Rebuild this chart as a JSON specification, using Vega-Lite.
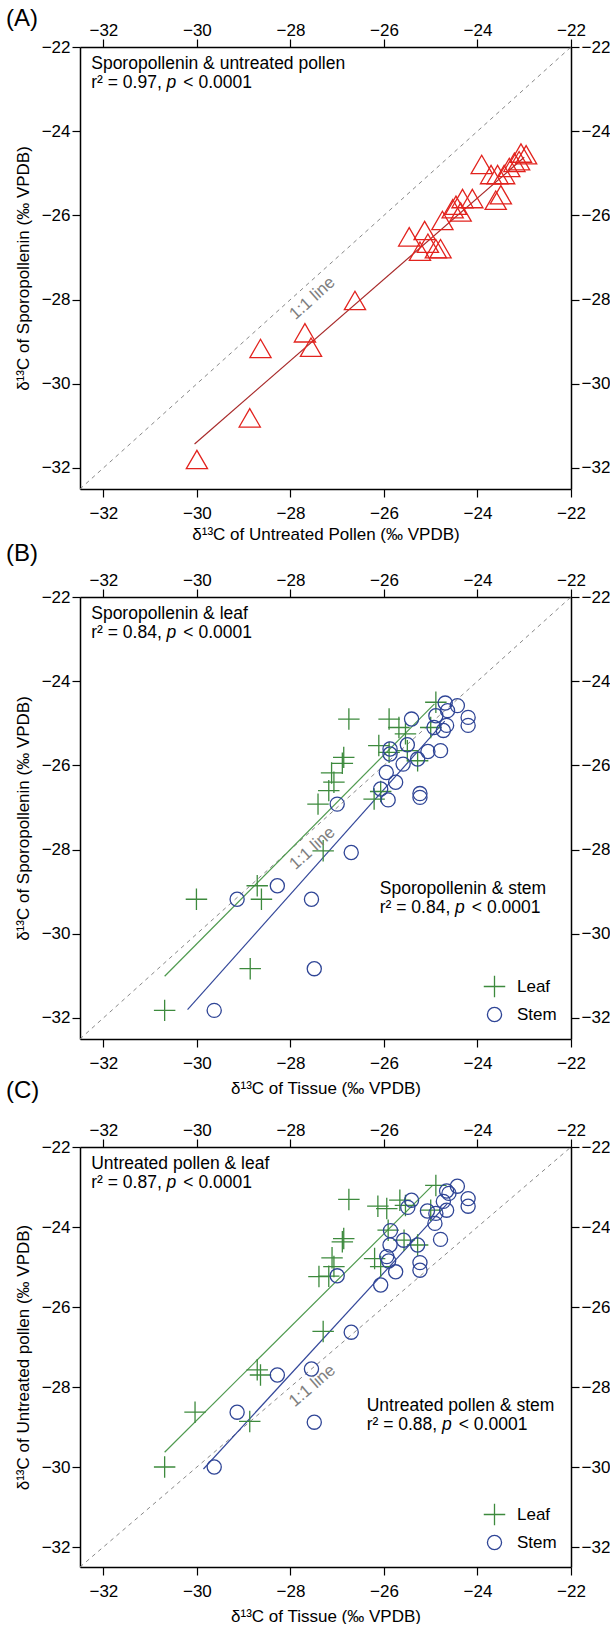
{
  "$schema": "https://vega.github.io/schema/vega-lite/v6.json",
  "background": "white",
  "padding": {"left": 6, "top": 7, "right": 0, "bottom": 0},
  "config": {
    "font": "Liberation Sans",
    "view": {"stroke": null},
    "axis": {"labelFont": "Liberation Sans", "labelFontSize": 17, "labelColor": "black", "titleFont": "Liberation Sans", "titleFontSize": 17, "titleFontWeight": "normal", "titleColor": "black", "domainColor": "black", "domainWidth": 1.5, "tickColor": "black", "tickWidth": 1.2, "tickSize": 8, "grid": false, "labelFlush": false, "labelOverlap": false, "labelBound": false},
    "title": {"font": "Liberation Sans", "fontSize": 24, "fontWeight": "normal", "color": "black", "anchor": "start", "frame": "group"},
    "legend": {"labelFont": "Liberation Sans", "labelFontSize": 17, "labelColor": "black", "symbolSize": 200, "symbolStrokeWidth": 1.3, "rowPadding": 4, "labelOffset": 8, "padding": 0}
  },
  "datasets": {
    "oneone": [{"x": -32.5, "y": -32.5}, {"x": -22, "y": -22}],
    "oneLbl": [{"x": -27.53, "y": -27.97, "t": "1:1 line"}],
    "lnA": [{"x": -30.05, "y": -31.43}, {"x": -23.0, "y": -24.62}],
    "triA": [
      {"x": -30.0, "y": -31.8}, {"x": -28.87, "y": -30.81}, {"x": -28.64, "y": -29.16}, {"x": -27.69, "y": -28.79}, {"x": -27.56, "y": -29.13}, {"x": -26.62, "y": -28.02},
      {"x": -25.46, "y": -26.51}, {"x": -25.13, "y": -26.36}, {"x": -25.06, "y": -26.66}, {"x": -25.23, "y": -26.85}, {"x": -24.89, "y": -26.79}, {"x": -24.79, "y": -26.79},
      {"x": -24.75, "y": -26.12}, {"x": -24.46, "y": -25.76}, {"x": -24.53, "y": -25.84}, {"x": -24.32, "y": -25.6}, {"x": -24.11, "y": -25.6}, {"x": -24.36, "y": -25.92},
      {"x": -23.61, "y": -25.64}, {"x": -23.5, "y": -25.51}, {"x": -23.91, "y": -24.79}, {"x": -23.71, "y": -25.03}, {"x": -23.57, "y": -25.03}, {"x": -23.43, "y": -25.03},
      {"x": -23.32, "y": -24.86}, {"x": -23.21, "y": -24.74}, {"x": -23.07, "y": -24.52}, {"x": -22.96, "y": -24.56}, {"x": -23.11, "y": -24.7}
    ],
    "lnB": [
      {"type": "Leaf", "x": -30.69, "y": -31.01}, {"type": "Leaf", "x": -24.92, "y": -24.54},
      {"type": "Stem", "x": -30.2, "y": -31.8}, {"type": "Stem", "x": -24.7, "y": -24.95}
    ],
    "ptsB": [
      {"type": "Leaf", "x": -30.69, "y": -31.82}, {"type": "Leaf", "x": -30.01, "y": -29.18}, {"type": "Leaf", "x": -28.86, "y": -30.83}, {"type": "Leaf", "x": -28.71, "y": -28.86},
      {"type": "Leaf", "x": -28.62, "y": -29.18}, {"type": "Leaf", "x": -27.3, "y": -28.03}, {"type": "Leaf", "x": -27.41, "y": -26.92}, {"type": "Leaf", "x": -27.18, "y": -26.6},
      {"type": "Leaf", "x": -27.07, "y": -26.4}, {"type": "Leaf", "x": -27.12, "y": -26.18}, {"type": "Leaf", "x": -26.86, "y": -25.81}, {"type": "Leaf", "x": -26.89, "y": -25.95},
      {"type": "Leaf", "x": -26.75, "y": -24.9}, {"type": "Leaf", "x": -26.21, "y": -26.8}, {"type": "Leaf", "x": -26.07, "y": -26.62}, {"type": "Leaf", "x": -26.11, "y": -25.53},
      {"type": "Leaf", "x": -25.89, "y": -25.69}, {"type": "Leaf", "x": -25.89, "y": -24.9}, {"type": "Leaf", "x": -25.68, "y": -25.1}, {"type": "Leaf", "x": -25.54, "y": -25.25},
      {"type": "Leaf", "x": -25.5, "y": -25.65}, {"type": "Leaf", "x": -25.28, "y": -25.89}, {"type": "Leaf", "x": -25.0, "y": -25.1}, {"type": "Leaf", "x": -24.89, "y": -24.5},
      {"type": "Stem", "x": -29.63, "y": -31.82}, {"type": "Stem", "x": -29.14, "y": -29.18}, {"type": "Stem", "x": -28.28, "y": -28.86}, {"type": "Stem", "x": -27.55, "y": -29.18},
      {"type": "Stem", "x": -27.49, "y": -30.83}, {"type": "Stem", "x": -27.0, "y": -26.92}, {"type": "Stem", "x": -26.7, "y": -28.07}, {"type": "Stem", "x": -25.91, "y": -26.82},
      {"type": "Stem", "x": -26.07, "y": -26.56}, {"type": "Stem", "x": -25.95, "y": -26.17}, {"type": "Stem", "x": -25.75, "y": -26.4}, {"type": "Stem", "x": -25.87, "y": -25.73},
      {"type": "Stem", "x": -25.87, "y": -25.61}, {"type": "Stem", "x": -25.59, "y": -25.97}, {"type": "Stem", "x": -25.5, "y": -25.51}, {"type": "Stem", "x": -25.41, "y": -24.9},
      {"type": "Stem", "x": -25.28, "y": -25.85}, {"type": "Stem", "x": -25.23, "y": -26.67}, {"type": "Stem", "x": -25.23, "y": -26.76}, {"type": "Stem", "x": -25.06, "y": -25.67},
      {"type": "Stem", "x": -24.79, "y": -25.65}, {"type": "Stem", "x": -24.89, "y": -24.82}, {"type": "Stem", "x": -24.69, "y": -24.52}, {"type": "Stem", "x": -24.64, "y": -24.7},
      {"type": "Stem", "x": -24.43, "y": -24.58}, {"type": "Stem", "x": -24.2, "y": -24.86}, {"type": "Stem", "x": -24.2, "y": -25.05}, {"type": "Stem", "x": -24.66, "y": -25.05},
      {"type": "Stem", "x": -24.73, "y": -25.17}, {"type": "Stem", "x": -24.93, "y": -25.1}
    ],
    "lnC": [
      {"type": "Leaf", "x": -30.69, "y": -29.63}, {"type": "Leaf", "x": -24.96, "y": -22.96},
      {"type": "Stem", "x": -29.86, "y": -30.05}, {"type": "Stem", "x": -24.64, "y": -23.41}
    ],
    "ptsC": [
      {"type": "Leaf", "x": -30.69, "y": -30.0}, {"type": "Leaf", "x": -30.04, "y": -28.63}, {"type": "Leaf", "x": -28.87, "y": -28.86}, {"type": "Leaf", "x": -28.71, "y": -27.57},
      {"type": "Leaf", "x": -28.64, "y": -27.7}, {"type": "Leaf", "x": -27.3, "y": -26.61}, {"type": "Leaf", "x": -27.39, "y": -25.24}, {"type": "Leaf", "x": -27.18, "y": -25.23},
      {"type": "Leaf", "x": -27.11, "y": -24.77}, {"type": "Leaf", "x": -27.07, "y": -24.99}, {"type": "Leaf", "x": -26.89, "y": -24.37}, {"type": "Leaf", "x": -26.86, "y": -24.29},
      {"type": "Leaf", "x": -26.75, "y": -23.31}, {"type": "Leaf", "x": -26.13, "y": -23.48}, {"type": "Leaf", "x": -25.94, "y": -23.54}, {"type": "Leaf", "x": -25.66, "y": -23.33},
      {"type": "Leaf", "x": -25.54, "y": -23.46}, {"type": "Leaf", "x": -25.91, "y": -24.08}, {"type": "Leaf", "x": -25.57, "y": -24.33}, {"type": "Leaf", "x": -25.28, "y": -24.45},
      {"type": "Leaf", "x": -26.2, "y": -24.79}, {"type": "Leaf", "x": -26.07, "y": -24.99}, {"type": "Leaf", "x": -24.89, "y": -22.96}, {"type": "Leaf", "x": -25.0, "y": -23.58},
      {"type": "Stem", "x": -29.63, "y": -30.0}, {"type": "Stem", "x": -29.14, "y": -28.63}, {"type": "Stem", "x": -28.28, "y": -27.7}, {"type": "Stem", "x": -27.55, "y": -27.55},
      {"type": "Stem", "x": -27.49, "y": -28.88}, {"type": "Stem", "x": -27.0, "y": -25.22}, {"type": "Stem", "x": -26.7, "y": -26.63}, {"type": "Stem", "x": -26.07, "y": -25.45},
      {"type": "Stem", "x": -25.94, "y": -24.74}, {"type": "Stem", "x": -25.9, "y": -24.85}, {"type": "Stem", "x": -25.75, "y": -25.12}, {"type": "Stem", "x": -25.87, "y": -24.45},
      {"type": "Stem", "x": -25.86, "y": -24.09}, {"type": "Stem", "x": -25.58, "y": -24.33}, {"type": "Stem", "x": -25.49, "y": -23.51}, {"type": "Stem", "x": -25.41, "y": -23.33},
      {"type": "Stem", "x": -25.28, "y": -24.45}, {"type": "Stem", "x": -25.23, "y": -24.89}, {"type": "Stem", "x": -25.23, "y": -25.08}, {"type": "Stem", "x": -25.07, "y": -23.6},
      {"type": "Stem", "x": -24.79, "y": -24.31}, {"type": "Stem", "x": -24.91, "y": -23.91}, {"type": "Stem", "x": -24.66, "y": -23.1}, {"type": "Stem", "x": -24.43, "y": -22.98},
      {"type": "Stem", "x": -24.61, "y": -23.16}, {"type": "Stem", "x": -24.73, "y": -23.36}, {"type": "Stem", "x": -24.66, "y": -23.58}, {"type": "Stem", "x": -24.2, "y": -23.29},
      {"type": "Stem", "x": -24.2, "y": -23.48}, {"type": "Stem", "x": -24.89, "y": -23.66}
    ],
    "ann": [
      {"p": "A", "s": "n", "x": -32.26, "y": -22.41, "t": "Sporopollenin & untreated pollen"},
      {"p": "A", "s": "n", "x": -32.26, "y": -22.86, "t": "r² = 0.97,"},
      {"p": "A", "s": "i", "x": -30.65, "y": -22.86, "t": "p"},
      {"p": "A", "s": "n", "x": -30.29, "y": -22.86, "t": "< 0.0001"},
      {"p": "B", "s": "n", "x": -32.26, "y": -22.4, "t": "Sporopollenin & leaf"},
      {"p": "B", "s": "n", "x": -32.26, "y": -22.86, "t": "r² = 0.84,"},
      {"p": "B", "s": "i", "x": -30.65, "y": -22.86, "t": "p"},
      {"p": "B", "s": "n", "x": -30.29, "y": -22.86, "t": "< 0.0001"},
      {"p": "B", "s": "n", "x": -26.09, "y": -28.94, "t": "Sporopollenin & stem"},
      {"p": "B", "s": "n", "x": -26.09, "y": -29.39, "t": "r² = 0.84,"},
      {"p": "B", "s": "i", "x": -24.48, "y": -29.39, "t": "p"},
      {"p": "B", "s": "n", "x": -24.12, "y": -29.39, "t": "< 0.0001"},
      {"p": "C", "s": "n", "x": -32.26, "y": -22.42, "t": "Untreated pollen & leaf"},
      {"p": "C", "s": "n", "x": -32.26, "y": -22.9, "t": "r² = 0.87,"},
      {"p": "C", "s": "i", "x": -30.65, "y": -22.9, "t": "p"},
      {"p": "C", "s": "n", "x": -30.29, "y": -22.9, "t": "< 0.0001"},
      {"p": "C", "s": "n", "x": -26.37, "y": -28.47, "t": "Untreated pollen & stem"},
      {"p": "C", "s": "n", "x": -26.37, "y": -28.94, "t": "r² = 0.88,"},
      {"p": "C", "s": "i", "x": -24.76, "y": -28.94, "t": "p"},
      {"p": "C", "s": "n", "x": -24.4, "y": -28.94, "t": "< 0.0001"}
    ]
  },
  "bounds": "flush",
  "spacing": 108,
  "resolve": {
    "scale": {"x": "independent", "y": "independent", "color": "independent", "shape": "independent", "size": "independent"},
    "legend": {"color": "independent", "shape": "independent", "size": "independent"}
  },
  "vconcat": [
    {
      "width": 491, "height": 442,
      "title": {"text": "(A)", "dx": -74, "offset": -10},
      "resolve": {"axis": {"x": "independent", "y": "independent"}},
      "layer": [
        {
          "data": {"name": "oneone"},
          "mark": {"type": "line", "strokeDash": [4, 4], "color": "#888888", "strokeWidth": 1},
          "encoding": {
            "x": {"field": "x", "type": "quantitative", "scale": {"domain": [-32.5, -22], "nice": false, "zero": false}, "axis": {"orient": "bottom", "values": [-32, -30, -28, -26, -24, -22], "title": "δ¹³C of Untreated Pollen (‰ VPDB)", "labelPadding": 8, "titlePadding": 5}},
            "y": {"field": "y", "type": "quantitative", "scale": {"domain": [-32.5, -22], "nice": false, "zero": false}, "axis": {"orient": "left", "values": [-32, -30, -28, -26, -24, -22], "title": "δ¹³C of Sporopollenin (‰ VPDB)", "labelPadding": 2, "titlePadding": 9}}
          }
        },
        {
          "data": {"name": "lnA"},
          "mark": {"type": "line", "color": "#a82a2a", "strokeWidth": 1.2},
          "encoding": {
            "x": {"field": "x", "type": "quantitative", "scale": {"domain": [-32.5, -22], "nice": false, "zero": false}, "axis": {"orient": "top", "values": [-32, -30, -28, -26, -24, -22], "title": null, "labelPadding": 0}},
            "y": {"field": "y", "type": "quantitative", "scale": {"domain": [-32.5, -22], "nice": false, "zero": false}, "axis": {"orient": "right", "values": [-32, -30, -28, -26, -24, -22], "title": null, "labelPadding": 2}}
          }
        },
        {
          "data": {"name": "triA"},
          "mark": {"type": "point", "shape": "triangle-up", "size": 450, "filled": false, "color": "#e2231e", "strokeWidth": 1.3, "opacity": 1},
          "encoding": {
            "x": {"field": "x", "type": "quantitative", "axis": null},
            "y": {"field": "y", "type": "quantitative", "axis": null}
          }
        },
        {
          "data": {"name": "oneLbl"},
          "mark": {"type": "text", "angle": -42, "fontSize": 17, "color": "#808080", "align": "center", "baseline": "middle"},
          "encoding": {
            "x": {"field": "x", "type": "quantitative", "axis": null},
            "y": {"field": "y", "type": "quantitative", "axis": null},
            "text": {"field": "t"}
          }
        },
        {
          "data": {"name": "ann"},
          "transform": [{"filter": "datum.p === 'A' && datum.s === 'n'"}],
          "mark": {"type": "text", "align": "left", "baseline": "middle", "fontSize": 17.5, "color": "black"},
          "encoding": {
            "x": {"field": "x", "type": "quantitative", "axis": null},
            "y": {"field": "y", "type": "quantitative", "axis": null},
            "text": {"field": "t"}
          }
        },
        {
          "data": {"name": "ann"},
          "transform": [{"filter": "datum.p === 'A' && datum.s === 'i'"}],
          "mark": {"type": "text", "align": "left", "baseline": "middle", "fontSize": 17.5, "fontStyle": "italic", "color": "black"},
          "encoding": {
            "x": {"field": "x", "type": "quantitative", "axis": null},
            "y": {"field": "y", "type": "quantitative", "axis": null},
            "text": {"field": "t"}
          }
        }
      ]
    },
    {
      "width": 491, "height": 442,
      "title": {"text": "(B)", "dx": -74, "offset": 5},
      "resolve": {"axis": {"x": "independent", "y": "independent"}},
      "layer": [
        {
          "data": {"name": "oneone"},
          "mark": {"type": "line", "strokeDash": [4, 4], "color": "#888888", "strokeWidth": 1},
          "encoding": {
            "x": {"field": "x", "type": "quantitative", "scale": {"domain": [-32.5, -22], "nice": false, "zero": false}, "axis": {"orient": "bottom", "values": [-32, -30, -28, -26, -24, -22], "title": "δ¹³C of Tissue (‰ VPDB)", "labelPadding": 8, "titlePadding": 9}},
            "y": {"field": "y", "type": "quantitative", "scale": {"domain": [-32.5, -22], "nice": false, "zero": false}, "axis": {"orient": "left", "values": [-32, -30, -28, -26, -24, -22], "title": "δ¹³C of Sporopollenin (‰ VPDB)", "labelPadding": 2, "titlePadding": 9}}
          }
        },
        {
          "data": {"name": "lnB"},
          "transform": [{"filter": "datum.type === 'Leaf'"}],
          "mark": {"type": "line", "color": "#4f9a4f", "strokeWidth": 1.2},
          "encoding": {
            "x": {"field": "x", "type": "quantitative", "scale": {"domain": [-32.5, -22], "nice": false, "zero": false}, "axis": {"orient": "top", "values": [-32, -30, -28, -26, -24, -22], "title": null, "labelPadding": 0}},
            "y": {"field": "y", "type": "quantitative", "scale": {"domain": [-32.5, -22], "nice": false, "zero": false}, "axis": {"orient": "right", "values": [-32, -30, -28, -26, -24, -22], "title": null, "labelPadding": 2}}
          }
        },
        {
          "data": {"name": "lnB"},
          "transform": [{"filter": "datum.type === 'Stem'"}],
          "mark": {"type": "line", "color": "#34489a", "strokeWidth": 1.2},
          "encoding": {
            "x": {"field": "x", "type": "quantitative", "axis": null},
            "y": {"field": "y", "type": "quantitative", "axis": null}
          }
        },
        {
          "data": {"name": "ptsB"},
          "mark": {"type": "point", "filled": false, "strokeWidth": 1.3, "opacity": 1},
          "encoding": {
            "x": {"field": "x", "type": "quantitative", "axis": null},
            "y": {"field": "y", "type": "quantitative", "axis": null},
            "color": {"field": "type", "type": "nominal", "scale": {"domain": ["Leaf", "Stem"], "range": ["#3d8a3d", "#2f4596"]}, "legend": {"title": null, "orient": "bottom-right", "offset": 14}},
            "shape": {"field": "type", "type": "nominal", "scale": {"domain": ["Leaf", "Stem"], "range": ["M-0.8,0L0.8,0M0,-0.8L0,0.8", "circle"]}, "legend": {"title": null, "orient": "bottom-right", "offset": 14}},
            "size": {"field": "type", "type": "nominal", "scale": {"domain": ["Leaf", "Stem"], "range": [720, 200]}, "legend": null}
          }
        },
        {
          "data": {"name": "oneLbl"},
          "mark": {"type": "text", "angle": -42, "fontSize": 17, "color": "#808080", "align": "center", "baseline": "middle"},
          "encoding": {
            "x": {"field": "x", "type": "quantitative", "axis": null},
            "y": {"field": "y", "type": "quantitative", "axis": null},
            "text": {"field": "t"}
          }
        },
        {
          "data": {"name": "ann"},
          "transform": [{"filter": "datum.p === 'B' && datum.s === 'n'"}],
          "mark": {"type": "text", "align": "left", "baseline": "middle", "fontSize": 17.5, "color": "black"},
          "encoding": {
            "x": {"field": "x", "type": "quantitative", "axis": null},
            "y": {"field": "y", "type": "quantitative", "axis": null},
            "text": {"field": "t"}
          }
        },
        {
          "data": {"name": "ann"},
          "transform": [{"filter": "datum.p === 'B' && datum.s === 'i'"}],
          "mark": {"type": "text", "align": "left", "baseline": "middle", "fontSize": 17.5, "fontStyle": "italic", "color": "black"},
          "encoding": {
            "x": {"field": "x", "type": "quantitative", "axis": null},
            "y": {"field": "y", "type": "quantitative", "axis": null},
            "text": {"field": "t"}
          }
        }
      ]
    },
    {
      "width": 491, "height": 420,
      "title": {"text": "(C)", "dx": -74, "offset": 18},
      "resolve": {"axis": {"x": "independent", "y": "independent"}},
      "layer": [
        {
          "data": {"name": "oneone"},
          "mark": {"type": "line", "strokeDash": [4, 4], "color": "#888888", "strokeWidth": 1},
          "encoding": {
            "x": {"field": "x", "type": "quantitative", "scale": {"domain": [-32.5, -22], "nice": false, "zero": false}, "axis": {"orient": "bottom", "values": [-32, -30, -28, -26, -24, -22], "title": "δ¹³C of Tissue (‰ VPDB)", "labelPadding": 8, "titlePadding": 9}},
            "y": {"field": "y", "type": "quantitative", "scale": {"domain": [-32.5, -22], "nice": false, "zero": false}, "axis": {"orient": "left", "values": [-32, -30, -28, -26, -24, -22], "title": "δ¹³C of Untreated pollen (‰ VPDB)", "labelPadding": 2, "titlePadding": 9}}
          }
        },
        {
          "data": {"name": "lnC"},
          "transform": [{"filter": "datum.type === 'Leaf'"}],
          "mark": {"type": "line", "color": "#4f9a4f", "strokeWidth": 1.2},
          "encoding": {
            "x": {"field": "x", "type": "quantitative", "scale": {"domain": [-32.5, -22], "nice": false, "zero": false}, "axis": {"orient": "top", "values": [-32, -30, -28, -26, -24, -22], "title": null, "labelPadding": 0}},
            "y": {"field": "y", "type": "quantitative", "scale": {"domain": [-32.5, -22], "nice": false, "zero": false}, "axis": {"orient": "right", "values": [-32, -30, -28, -26, -24, -22], "title": null, "labelPadding": 2}}
          }
        },
        {
          "data": {"name": "lnC"},
          "transform": [{"filter": "datum.type === 'Stem'"}],
          "mark": {"type": "line", "color": "#34489a", "strokeWidth": 1.2},
          "encoding": {
            "x": {"field": "x", "type": "quantitative", "axis": null},
            "y": {"field": "y", "type": "quantitative", "axis": null}
          }
        },
        {
          "data": {"name": "ptsC"},
          "mark": {"type": "point", "filled": false, "strokeWidth": 1.3, "opacity": 1},
          "encoding": {
            "x": {"field": "x", "type": "quantitative", "axis": null},
            "y": {"field": "y", "type": "quantitative", "axis": null},
            "color": {"field": "type", "type": "nominal", "scale": {"domain": ["Leaf", "Stem"], "range": ["#3d8a3d", "#2f4596"]}, "legend": {"title": null, "orient": "bottom-right", "offset": 14}},
            "shape": {"field": "type", "type": "nominal", "scale": {"domain": ["Leaf", "Stem"], "range": ["M-0.8,0L0.8,0M0,-0.8L0,0.8", "circle"]}, "legend": {"title": null, "orient": "bottom-right", "offset": 14}},
            "size": {"field": "type", "type": "nominal", "scale": {"domain": ["Leaf", "Stem"], "range": [720, 200]}, "legend": null}
          }
        },
        {
          "data": {"name": "oneLbl"},
          "mark": {"type": "text", "angle": -40.6, "fontSize": 17, "color": "#808080", "align": "center", "baseline": "middle"},
          "encoding": {
            "x": {"field": "x", "type": "quantitative", "axis": null},
            "y": {"field": "y", "type": "quantitative", "axis": null},
            "text": {"field": "t"}
          }
        },
        {
          "data": {"name": "ann"},
          "transform": [{"filter": "datum.p === 'C' && datum.s === 'n'"}],
          "mark": {"type": "text", "align": "left", "baseline": "middle", "fontSize": 17.5, "color": "black"},
          "encoding": {
            "x": {"field": "x", "type": "quantitative", "axis": null},
            "y": {"field": "y", "type": "quantitative", "axis": null},
            "text": {"field": "t"}
          }
        },
        {
          "data": {"name": "ann"},
          "transform": [{"filter": "datum.p === 'C' && datum.s === 'i'"}],
          "mark": {"type": "text", "align": "left", "baseline": "middle", "fontSize": 17.5, "fontStyle": "italic", "color": "black"},
          "encoding": {
            "x": {"field": "x", "type": "quantitative", "axis": null},
            "y": {"field": "y", "type": "quantitative", "axis": null},
            "text": {"field": "t"}
          }
        }
      ]
    }
  ]
}
